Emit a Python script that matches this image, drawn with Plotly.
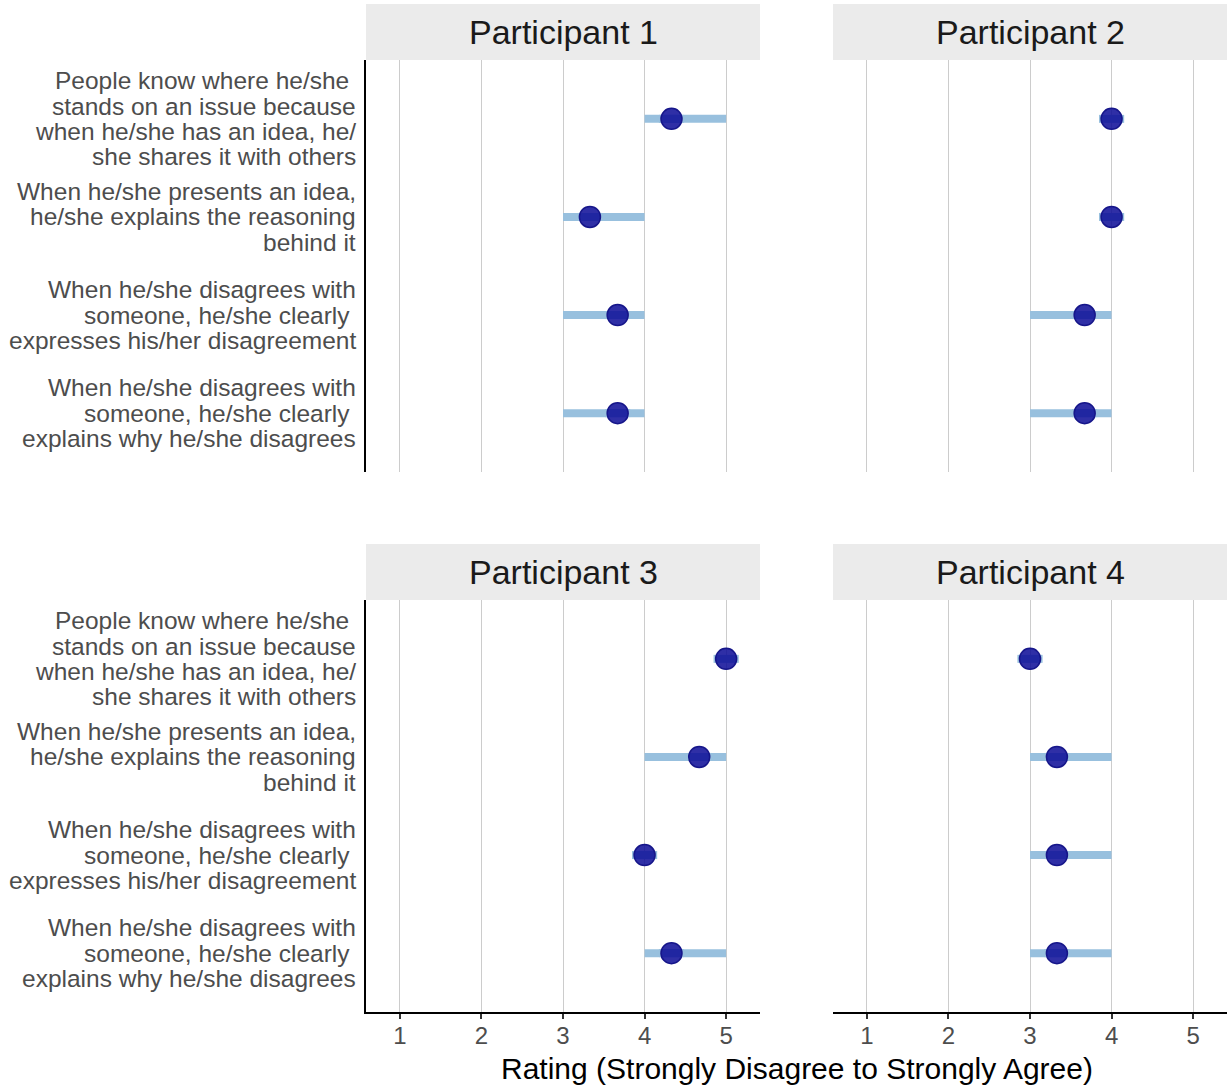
import plotly.graph_objects as go

# ---------------- data ----------------
questions = [
    "People know where he/she\u00a0<br>stands on an issue because<br>when he/she has an idea, he/<br>she shares it with others",
    "When he/she presents an idea,<br>he/she explains the reasoning<br>behind it",
    "When he/she disagrees with<br>someone, he/she clearly\u00a0<br>expresses his/her disagreement",
    "When he/she disagrees with<br>someone, he/she clearly\u00a0<br>explains why he/she disagrees",
]
participants = ["Participant 1", "Participant 2", "Participant 3", "Participant 4"]

p1_mean = [4.33, 3.33, 3.67, 3.67]
p1_low = [4, 3, 3, 3]
p1_high = [5, 4, 4, 4]

p2_mean = [4, 4, 3.67, 3.67]
p2_low = [4, 4, 3, 3]
p2_high = [4, 4, 4, 4]

p3_mean = [5, 4.67, 4, 4.33]
p3_low = [5, 4, 4, 4]
p3_high = [5, 5, 4, 5]

p4_mean = [3, 3.33, 3.33, 3.33]
p4_low = [3, 3, 3, 3]
p4_high = [3, 4, 4, 4]

x_ticks = [1, 2, 3, 4, 5]
x_title = "Rating (Strongly Disagree to Strongly Agree)"

panel_data = [
    (p1_mean, p1_low, p1_high),
    (p2_mean, p2_low, p2_high),
    (p3_mean, p3_low, p3_high),
    (p4_mean, p4_low, p4_high),
]

# ---------------- layout geometry ----------------
W, H = 1231, 1089
FONT = "Liberation Sans, Arial, sans-serif"
BAR_COLOR = "#98C0DE"
PT_FILL = "rgba(10,10,150,0.85)"
PT_LINE = "#16168A"
LABEL_SIZE = 24.5
LINE_STEP = 25.3

x_domains = [[366 / W, 760 / W], [833 / W, 1227 / W]]
y_domains = [[1 - 472 / H, 1 - 60 / H], [1 - 1012 / H, 1 - 600 / H]]
strip_y = [[1 - 60 / H, 1 - 4 / H], [1 - 600 / H, 1 - 544 / H]]

fig = go.Figure()
layout = dict(
    width=W, height=H,
    margin=dict(l=0, r=0, t=0, b=0),
    paper_bgcolor="white", plot_bgcolor="white",
    showlegend=False,
    font=dict(family=FONT),
    shapes=[], annotations=[],
)

for i, (name, (mean, low, high)) in enumerate(zip(participants, panel_data)):
    row, col = divmod(i, 2)
    sfx = "" if i == 0 else str(i + 1)
    xa, ya = "x" + sfx, "y" + sfx

    # range bars
    bx, by = [], []
    for q, lo, hi in zip(questions, low, high):
        bx += [lo, hi, None]
        by += [q, q, None]
    fig.add_trace(go.Scatter(x=bx, y=by, mode="lines", xaxis=xa, yaxis=ya,
                             line=dict(color=BAR_COLOR, width=8), hoverinfo="skip"))
    # small cap behind the point
    fig.add_trace(go.Scatter(x=mean, y=questions, mode="markers", xaxis=xa, yaxis=ya,
                             marker=dict(symbol="line-ew", size=18,
                                         line=dict(color=BAR_COLOR, width=8)),
                             hoverinfo="skip"))
    # mean points
    fig.add_trace(go.Scatter(x=mean, y=questions, mode="markers", xaxis=xa, yaxis=ya,
                             marker=dict(size=21, color=PT_FILL,
                                         line=dict(color=PT_LINE, width=1.5))))

    bottom = row == 1
    left = col == 0
    layout["xaxis" + sfx] = dict(
        domain=x_domains[col], anchor=ya, range=[0.585, 5.415],
        tickvals=x_ticks, showgrid=True, gridcolor="#CCCCCC", gridwidth=1,
        zeroline=False, showline=bottom, linecolor="black", linewidth=2,
        ticks="outside" if bottom else "", ticklen=5, tickwidth=2, tickcolor="#333333",
        showticklabels=bottom, tickfont=dict(size=24, color="#4D4D4D", family=FONT),
        ticklabelstandoff=-4,
        fixedrange=True,
    )
    layout["yaxis" + sfx] = dict(
        domain=y_domains[row], anchor=xa, type="category",
        categoryorder="array", categoryarray=questions, range=[3.6, -0.6],
        showgrid=False, zeroline=False, showline=left, linecolor="black", linewidth=2,
        ticks="", showticklabels=False, fixedrange=True,
    )
    # y labels (drawn line by line for ggplot-like line spacing)
    if left:
        for q in questions:
            lines = q.split("<br>")
            n = len(lines)
            for k, ln in enumerate(lines):
                layout["annotations"].append(dict(
                    text=ln, xref="paper", yref=ya, x=358 / W, y=q,
                    xanchor="right", yanchor="middle", showarrow=False,
                    yshift=-(k - (n - 1) / 2) * LINE_STEP,
                    font=dict(size=LABEL_SIZE, color="#4D4D4D", family=FONT)))
    # strip
    layout["shapes"].append(dict(type="rect", xref="paper", yref="paper",
                                 x0=x_domains[col][0], x1=x_domains[col][1],
                                 y0=strip_y[row][0], y1=strip_y[row][1],
                                 fillcolor="#EBEBEB", line=dict(width=0), layer="below"))
    layout["annotations"].append(dict(text=name, xref="paper", yref="paper",
                                      x=sum(x_domains[col]) / 2, y=sum(strip_y[row]) / 2,
                                      xanchor="center", yanchor="middle", showarrow=False,
                                      font=dict(size=34, color="#1A1A1A", family=FONT)))

layout["annotations"].append(dict(text=x_title, xref="paper", yref="paper",
                                  x=(366 + 1227) / 2 / W, y=1 - 1068 / H,
                                  xanchor="center", yanchor="middle", showarrow=False,
                                  font=dict(size=30, color="black", family=FONT)))

fig.update_layout(**layout)
fig.write_html("out.html", config={"displayModeBar": False},
               post_script="document.body.style.margin='0';")
